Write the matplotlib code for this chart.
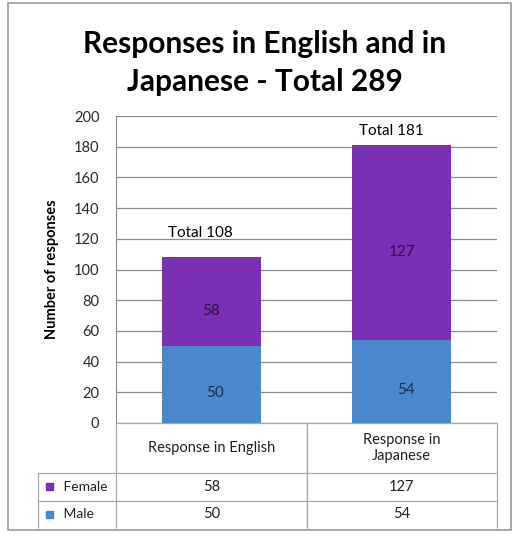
import matplotlib.pyplot as plt
from matplotlib.patches import Rectangle

plt.rcParams['font.family'] = ['Lato', 'DejaVu Sans']

# data
categories = ['Response in English', 'Response in\nJapanese']
male = [50, 54]
female = [58, 127]
series_names = ['Female', 'Male']
c_male = '#4a88cc'
c_female = '#7b2fb6'

fig = plt.figure(figsize=(5.16, 5.35), dpi=100)
W, H = 516, 535
# outer frame
fig.patches.append(Rectangle((8 / W, 5 / H), 503 / W, 527 / H, transform=fig.transFigure,
                             fill=False, edgecolor='#9a9a9a', linewidth=1.2))

ax = fig.add_axes([116 / W, 1 - 423 / H, 381 / W, 307 / H])
x = [0, 1]
totals = [m + f for m, f in zip(male, female)]
ax.bar(x, male, width=0.52, color=c_male, zorder=2)
ax.bar(x, female, bottom=male, width=0.52, color=c_female, zorder=2)
# value labels, Excel puts them a little below the middle
for xi, m, f in zip(x, male, female):
    ax.annotate(str(m), (xi, m / 2), xytext=(3, -6), textcoords='offset points',
                ha='center', va='center', color='#1f2a4a', fontsize=11)
    ax.annotate(str(f), (xi, m + f / 2), xytext=(0, -7), textcoords='offset points',
                ha='center', va='center', color='#2a1040', fontsize=11)
for xi, t, dy in zip(x, totals, [16, 9]):
    ax.text(xi - 0.055, t + dy, f'Total {t}', ha='center', va='center', fontsize=11)

ax.set_xlim(-0.5, 1.5)
ax.set_ylim(0, 200)
ax.set_yticks(range(0, 201, 20))
ax.set_xticks([])
ax.tick_params(axis='y', length=0, labelsize=10.5, pad=12, colors='#2a2a2a')
ax.grid(axis='y', color='#8c8c8c', linewidth=0.9, zorder=0)
for s in ['top', 'right', 'bottom']:
    ax.spines[s].set_visible(False)
ax.spines['left'].set_color('#8c8c8c')
ax.set_ylabel('Number of responses', fontsize=10.5, fontweight='bold', labelpad=11)

# data table (first column holds the series names)
cell_text = [['     ' + n] + [str(v) for v in vals]
             for n, vals in zip(series_names, [female, male])]
tab = ax.table(cellText=cell_text, colLabels=[''] + categories, cellLoc='center',
               bbox=[(38 - 116) / 381, -(528 - 423) / 307, (497 - 38) / 381, (528 - 423) / 307])
tab.auto_set_font_size(False)
for (r, c), cell in tab.get_celld().items():
    cell.set_edgecolor('#a8a8a8')
    cell.set_linewidth(0.9)
    cell.get_text().set_fontsize(10.5)
    cell.get_text().set_color('#222222')
    cell.set_width(78 if c == 0 else 190.5)
    cell.set_height(50 if r == 0 else 27.5)
    if c == 0:
        cell.get_text().set_horizontalalignment('left')
        cell.get_text().set_fontsize(10)
        cell.visible_edges = '' if r == 0 else 'LT'
    else:
        cell.visible_edges = 'TLR'
# legend keys in row label cells
for i, col in enumerate([c_female, c_male]):
    yc = -(473 + 27.5 * (i + 0.5) - 423) / 307
    ax.add_patch(Rectangle(((46 - 116) / 381, yc - 3.5 / 307), 7 / 381, 7 / 307,
                           transform=ax.transAxes, color=col, clip_on=False))

fig.suptitle('Responses in English and in\nJapanese - Total 289', x=0.513, y=1 - 30 / H,
             fontsize=21.5, fontweight='bold', linespacing=1.45)

fig.savefig('out.png', dpi=100)
